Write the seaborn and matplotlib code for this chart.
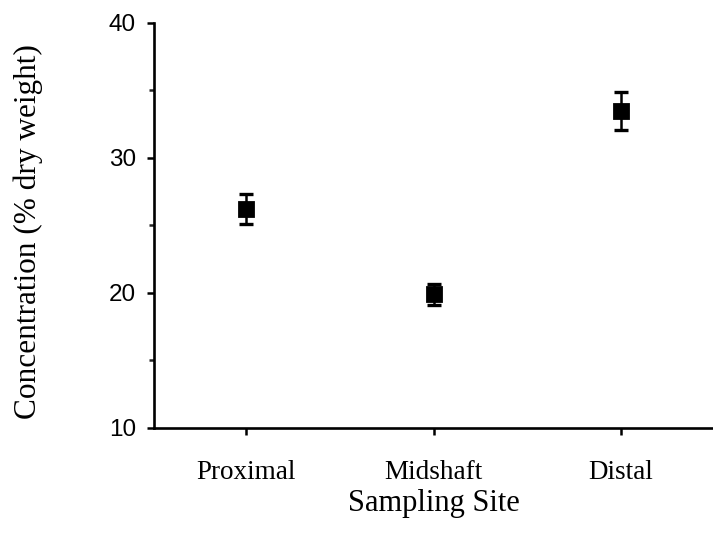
import matplotlib
matplotlib.use("Agg")
import matplotlib.pyplot as plt
import seaborn as sns
import pandas as pd
import numpy as np
from matplotlib.ticker import MultipleLocator

sites = ["Proximal", "Midshaft", "Distal"]
means = [26.2, 19.9, 33.5]
errors = [1.1, 0.8, 1.4]
y_ticks = [10, 20, 30, 40]

sns.set_theme(style="ticks")
plt.rcParams["font.family"] = ["Liberation Serif", "DejaVu Serif"]

df = pd.DataFrame({"site": sites, "mean": means})

fig = plt.figure(figsize=(7.13, 5.33), dpi=100)
ax = fig.add_axes([0.216, 0.197, 0.784, 0.760])

sns.pointplot(data=df, x="site", y="mean", order=sites, errorbar=None,
              linestyle="none", marker="s", markersize=10.5, color="black", ax=ax)
ax.errorbar(np.arange(len(sites)), means, yerr=errors, fmt="none",
            ecolor="black", elinewidth=1.8, capsize=5, capthick=2.4)

ax.set_xlim(-0.49, 2.49)
ax.set_ylim(10, 40)
ax.set_yticks(y_ticks)
ax.yaxis.set_minor_locator(MultipleLocator(5))

for s in ["top", "right"]:
    ax.spines[s].set_visible(False)
for s in ["left", "bottom"]:
    ax.spines[s].set_linewidth(1.9)
    ax.spines[s].set_color("black")

ax.tick_params(axis="y", which="major", direction="out", length=5, width=1.8,
               labelsize=17.5, pad=8, colors="black")
ax.tick_params(axis="y", which="minor", direction="out", length=3.5, width=1.8)
ax.tick_params(axis="x", which="major", direction="out", length=5, width=1.8,
               labelsize=19.5, pad=18, colors="black")
for lab in ax.get_yticklabels():
    lab.set_fontfamily(["Liberation Sans", "DejaVu Sans"])

ax.set_xlabel("Sampling Site", fontsize=22, labelpad=3, color="black")
ax.set_ylabel("Concentration (% dry weight)", fontsize=22.5, color="black")
ax.yaxis.set_label_coords(-0.199, 0.484)

fig.savefig("out.png", dpi=100, facecolor="white")
